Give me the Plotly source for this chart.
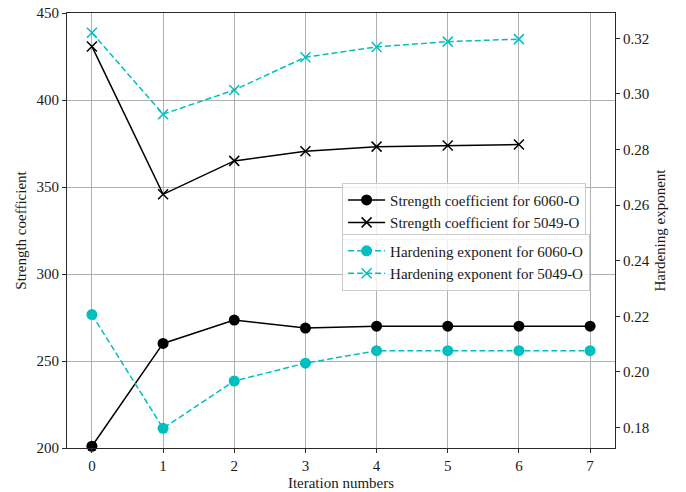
import plotly.graph_objects as go

iterations = [0, 1, 2, 3, 4, 5, 6, 7]
iterations_5049 = [0, 1, 2, 3, 4, 5, 6]

strength_6060 = [201.0, 260.1, 273.5, 268.9, 270.0, 270.0, 270.0, 270.0]
strength_5049 = [430.8, 345.8, 365.0, 370.6, 373.2, 373.8, 374.4]
hardening_6060 = [0.2206, 0.1797, 0.1967, 0.2031, 0.2076, 0.2076, 0.2076, 0.2076]
hardening_5049 = [0.3220, 0.2927, 0.3014, 0.3132, 0.3169, 0.3188, 0.3197]

left_ticks = [200, 250, 300, 350, 400, 450]
right_ticks = [0.18, 0.20, 0.22, 0.24, 0.26, 0.28, 0.30, 0.32]

FONT = "Liberation Serif"
FS = 15
CYAN = "#00BFBF"

fig = go.Figure()

fig.add_trace(go.Scatter(
    x=iterations, y=strength_6060, mode="lines+markers",
    name="Strength coefficient for 6060-O",
    line=dict(color="black", width=1.5),
    marker=dict(symbol="circle", size=11, color="black"),
    legend="legend", cliponaxis=False))
fig.add_trace(go.Scatter(
    x=iterations_5049, y=strength_5049, mode="lines+markers",
    name="Strength coefficient for 5049-O",
    line=dict(color="black", width=1.5),
    marker=dict(symbol="x-thin", size=10, color="black",
                line=dict(color="black", width=1.5)),
    legend="legend", cliponaxis=False))
fig.add_trace(go.Scatter(
    x=iterations, y=hardening_6060, mode="lines+markers", yaxis="y2",
    name="Hardening exponent for 6060-O",
    line=dict(color=CYAN, width=1.5, dash="6px,3px"),
    marker=dict(symbol="circle", size=11, color=CYAN),
    legend="legend2", cliponaxis=False))
fig.add_trace(go.Scatter(
    x=iterations_5049, y=hardening_5049, mode="lines+markers", yaxis="y2",
    name="Hardening exponent for 5049-O",
    line=dict(color=CYAN, width=1.5, dash="6px,3px"),
    marker=dict(symbol="x-thin", size=10, color=CYAN,
                line=dict(color=CYAN, width=1.5)),
    legend="legend2", cliponaxis=False))

axis_common = dict(
    showline=True, linecolor="#2a2a2a", linewidth=1.2,
    ticks="outside", ticklen=4, tickcolor="#2a2a2a", tickwidth=1,
    tickfont=dict(family=FONT, size=FS, color="#1a1a1a"),
    zeroline=False, automargin=False, ticklabeloverflow="allow",
)

legend_common = dict(
    xref="paper", yref="paper", xanchor="left", yanchor="top",
    bgcolor="rgba(255,255,255,0.8)", bordercolor="#cccccc", borderwidth=1,
    font=dict(family=FONT, size=FS, color="#1a1a1a"),
    itemwidth=37, tracegroupgap=0,
)

fig.update_layout(
    width=686, height=492,
    margin=dict(l=67, r=71, t=13, b=44),
    plot_bgcolor="white", paper_bgcolor="white",
    font=dict(family=FONT, size=FS, color="#1a1a1a"),
    xaxis=dict(
        range=[-0.35, 7.35], tickmode="array", tickvals=iterations,
        showgrid=True, gridcolor="#b0b0b0", gridwidth=1, mirror=True,
        title=dict(text="Iteration numbers", font=dict(family=FONT, size=FS), standoff=4),
        **axis_common),
    yaxis=dict(
        range=[200, 450], tickmode="array", tickvals=left_ticks,
        showgrid=True, gridcolor="#b0b0b0", gridwidth=1,
        title=dict(text="Strength coefficient", font=dict(family=FONT, size=FS), standoff=6),
        **axis_common),
    yaxis2=dict(
        range=[0.1726, 0.3291], overlaying="y", side="right",
        tickmode="array", tickvals=right_ticks, tickformat=".2f",
        showgrid=False,
        title=dict(text="Hardening exponent", font=dict(family=FONT, size=FS), standoff=5),
        **axis_common),
    legend=dict(x=0.502, y=0.610, **legend_common),
    legend2=dict(x=0.502, y=0.493, **legend_common),
    showlegend=True,
)

# Remove the default 8px page margin so the figure fills the window exactly.
fig.write_html("out.html", config={"displayModeBar": False},
               post_script="document.body.style.margin='0';")
